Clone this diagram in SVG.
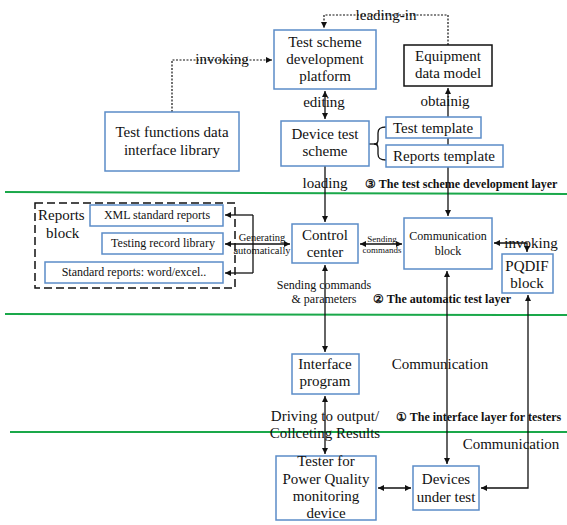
<svg xmlns="http://www.w3.org/2000/svg" width="567" height="525" viewBox="0 0 567 525">
<defs>
<style>
text{font-family:"Liberation Serif","Times New Roman",serif;fill:#111;}
.t15{font-size:15px;text-anchor:middle;}
.t12{font-size:12px;text-anchor:middle;}
.t9{font-size:9px;text-anchor:middle;}
.b12{font-size:12px;font-weight:bold;}
.box{fill:#fff;stroke:#5b8cc8;stroke-width:1.5;}
.kbox{fill:#fff;stroke:#111;stroke-width:1.5;}
.ln{fill:none;stroke:#111;stroke-width:1.3;}
.dot{fill:none;stroke:#111;stroke-width:1.2;stroke-dasharray:2,1.5;}
.green{stroke:#1aa84a;stroke-width:2;}
</style>
<marker id="ah" viewBox="0 0 8 8" refX="8" refY="4" markerWidth="6" markerHeight="6" orient="auto-start-reverse" markerUnits="userSpaceOnUse">
<path d="M0,0 L8,4 L0,8 z" fill="#111"/>
</marker>
</defs>
<rect width="567" height="525" fill="#fff"/>

<g id="layers">
<line class="green" x1="5" y1="192" x2="567" y2="194"/>
<line class="green" x1="5" y1="314" x2="567" y2="315"/>
<line class="green" x1="10" y1="432" x2="567" y2="432"/>
<text class="b12" x="365" y="188">③ The test scheme development layer</text>
<text class="b12" x="373" y="303">② The automatic test layer</text>
<text class="b12" x="396" y="421">① The interface layer for testers</text>
</g>

<g id="connectors">
<polyline class="dot" points="172,112 172,60 272,60" marker-end="url(#ah)"/>
<polyline class="dot" points="448,45 448,15 324,15 324,28" marker-end="url(#ah)"/>
<line class="ln" x1="325" y1="91" x2="325" y2="119" marker-start="url(#ah)" marker-end="url(#ah)"/>
<line class="ln" x1="448" y1="88" x2="448" y2="216" marker-start="url(#ah)" marker-end="url(#ah)"/>
<line class="ln" x1="325" y1="166" x2="325" y2="222" marker-end="url(#ah)"/>
<line class="ln" x1="369" y1="144" x2="378" y2="144"/>
<path class="ln" d="M386,127 C381,127 378,128 378,133 L378,140 Q378,144 374,144 Q378,144 378,148 L378,154 C378,159 381,160 386,160"/>
<polyline class="ln" points="253,215 253,273"/>
<line class="ln" x1="253" y1="215" x2="225" y2="215" marker-end="url(#ah)"/>
<line class="ln" x1="253" y1="273" x2="225" y2="273" marker-end="url(#ah)"/>
<line class="ln" x1="225" y1="244" x2="290" y2="244" marker-start="url(#ah)" marker-end="url(#ah)"/>
<line class="ln" x1="360" y1="244" x2="402" y2="244" marker-start="url(#ah)" marker-end="url(#ah)"/>
<polyline class="ln" points="494,243 527,243 527,252" marker-start="url(#ah)" marker-end="url(#ah)"/>
<line class="ln" x1="325" y1="265" x2="325" y2="352" marker-start="url(#ah)" marker-end="url(#ah)"/>
<line class="ln" x1="325" y1="396" x2="325" y2="454" marker-start="url(#ah)" marker-end="url(#ah)"/>
<line class="ln" x1="447" y1="271" x2="447" y2="464" marker-start="url(#ah)" marker-end="url(#ah)"/>
<polyline class="ln" points="528,295 528,488 481,488" marker-start="url(#ah)" marker-end="url(#ah)"/>
<line class="ln" x1="378" y1="488" x2="411" y2="488" marker-start="url(#ah)" marker-end="url(#ah)"/>
<text class="t15" x="222" y="64">invoking</text>
<text class="t15" x="386" y="20">leading-in</text>
<text class="t15" x="324" y="107">editing</text>
<text class="t15" x="445" y="106">obtainig</text>
<text class="t15" x="325" y="188">loading</text>
<text style="font-size:10.5px;text-anchor:middle" x="262" y="241">Generating</text>
<text style="font-size:10.5px;text-anchor:middle" x="262" y="254">automatically</text>
<text class="t9" x="382" y="242">Sending</text>
<text class="t9" x="382" y="253">commands</text>
<text class="t15" x="531" y="248">invoking</text>
<text class="t12" x="324" y="289">Sending commands</text>
<text class="t12" x="324" y="303">&amp; parameters</text>
<text class="t15" x="440" y="369">Communication</text>
<text class="t15" x="325" y="421">Driving to output/</text>
<text class="t15" x="325" y="438">Collceting Results</text>
<text class="t15" x="511" y="449">Communication</text>
</g>

<g id="test-scheme-platform">
<rect class="box" x="274" y="30" width="102" height="59"/>
<text class="t15" x="325" y="47">Test scheme</text>
<text class="t15" x="325" y="64">development</text>
<text class="t15" x="325" y="81">platform</text>
</g>
<g id="equipment-data-model">
<rect class="kbox" x="404" y="45" width="88" height="41"/>
<text class="t15" x="448" y="61">Equipment</text>
<text class="t15" x="448" y="78">data model</text>
</g>
<g id="test-functions-library">
<rect class="box" x="105" y="112" width="134" height="59"/>
<text class="t15" x="172" y="137">Test functions data</text>
<text class="t15" x="172" y="155">interface library</text>
</g>
<g id="device-test-scheme">
<rect class="box" x="281" y="121" width="88" height="45"/>
<text class="t15" x="325" y="139">Device test</text>
<text class="t15" x="325" y="156">scheme</text>
</g>
<g id="test-template">
<rect class="box" x="386" y="117" width="95" height="21"/>
<text class="t15" x="433" y="133">Test template</text>
</g>
<g id="reports-template">
<rect class="box" x="386" y="145" width="117" height="22"/>
<text class="t15" x="444" y="161">Reports template</text>
</g>

<g id="reports-block">
<rect x="35" y="203" width="200" height="85" fill="none" stroke="#111" stroke-width="1.5" stroke-dasharray="8,4"/>
<text style="font-size:15px" x="38" y="220">Reports</text>
<text style="font-size:15px" x="46" y="238">block</text>
</g>
<g id="xml-reports">
<rect class="box" x="90" y="205" width="133" height="21"/>
<text class="t12" x="157" y="219">XML standard reports</text>
</g>
<g id="testing-record-library">
<rect class="box" x="102" y="233" width="121" height="21"/>
<text class="t12" x="163" y="247">Testing record library</text>
</g>
<g id="standard-reports">
<rect class="box" x="45" y="262" width="178" height="21"/>
<text class="t12" x="134" y="276">Standard reports: word/excel..</text>
</g>

<g id="control-center">
<rect class="box" x="292" y="224" width="66" height="39"/>
<text class="t15" x="325" y="240">Control</text>
<text class="t15" x="325" y="257">center</text>
</g>
<g id="communication-block">
<rect class="box" x="404" y="218" width="88" height="51"/>
<text class="t12" x="448" y="240">Communication</text>
<text class="t12" x="448" y="255">block</text>
</g>
<g id="pqdif-block">
<rect class="box" x="502" y="254" width="51" height="39"/>
<text class="t15" x="527" y="271">PQDIF</text>
<text class="t15" x="527" y="288">block</text>
</g>

<g id="interface-program">
<rect class="box" x="292" y="354" width="67" height="40"/>
<text class="t15" x="325" y="369">Interface</text>
<text class="t15" x="325" y="386">program</text>
</g>
<g id="tester">
<rect class="box" x="276" y="456" width="100" height="64"/>
<text class="t15" x="326" y="466">Tester for</text>
<text class="t15" x="326" y="484">Power Quality</text>
<text class="t15" x="326" y="501">monitoring</text>
<text class="t15" x="326" y="518">device</text>
</g>
<g id="devices-under-test">
<rect class="box" x="413" y="466" width="66" height="44"/>
<text class="t15" x="446" y="484">Devices</text>
<text class="t15" x="446" y="502">under test</text>
</g>
</svg>
